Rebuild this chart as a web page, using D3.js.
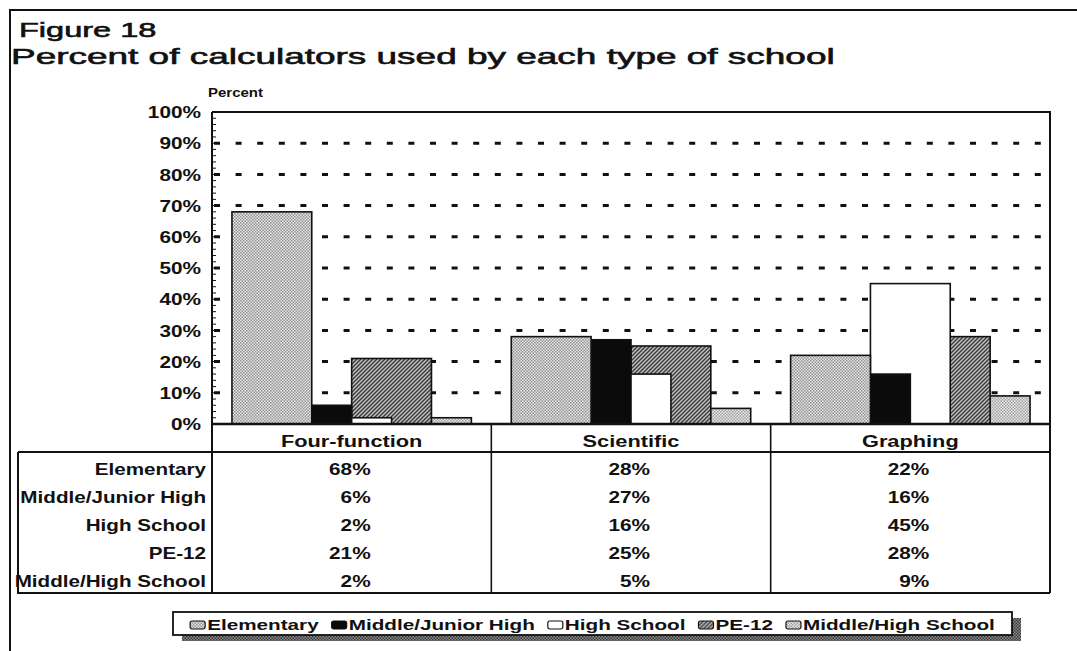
<!DOCTYPE html>
<html>
<head>
<meta charset="utf-8">
<script src="https://cdn.jsdelivr.net/npm/d3@7/dist/d3.min.js"></script>
<style>
  html, body { margin: 0; padding: 0; background: #ffffff; }
  svg { display: block; }
  text { font-family: "Liberation Sans", Arial, Helvetica, sans-serif; fill: #111; }
</style>
</head>
<body>
<svg id="chart" width="1077" height="651"></svg>
<script>
// ---------------- DATA ----------------
const categories = ["Four-function", "Scientific", "Graphing"];
const seriesNames = ["Elementary", "Middle/Junior High", "High School", "PE-12", "Middle/High School"];
const elementary   = [68, 28, 22];
const middleJunior = [6, 27, 16];
const highSchool   = [2, 16, 45];
const pe12         = [21, 25, 28];
const middleHigh   = [2, 5, 9];
const yTickValues  = [0, 10, 20, 30, 40, 50, 60, 70, 80, 90, 100];
const titleLine1 = "Figure 18";
const titleLine2 = "Percent of calculators used by each type of school";
const yAxisTitle = "Percent";

const seriesValues = [elementary, middleJunior, highSchool, pe12, middleHigh];
const series = seriesNames.map((name, i) => ({ name, values: seriesValues[i] }));

// ---------------- SETUP ----------------
const svg = d3.select("#chart");
const W = 1077, H = 651;
const plot = { left: 212, right: 1050, top: 112, bottom: 424 };
const tableBottom = 593, headerBottom = 452, tableLeft = 18;

const defs = svg.append("defs");
function checker(id, bg, fg) {
  const p = defs.append("pattern").attr("id", id).attr("width", 3).attr("height", 3)
    .attr("patternUnits", "userSpaceOnUse");
  p.append("rect").attr("width", 3).attr("height", 3).attr("fill", bg);
  p.append("rect").attr("width", 1.5).attr("height", 1.5).attr("fill", fg);
  p.append("rect").attr("x", 1.5).attr("y", 1.5).attr("width", 1.5).attr("height", 1.5).attr("fill", fg);
}
checker("pElem", "#e6e6e6", "#939393");
checker("pMH", "#eaeaea", "#9e9e9e");
checker("pShadow", "#8a8a8a", "#3a3a3a");
(function () {
  const p = defs.append("pattern").attr("id", "pPE").attr("width", 4).attr("height", 4)
    .attr("patternUnits", "userSpaceOnUse");
  p.append("rect").attr("width", 4).attr("height", 4).attr("fill", "#c4c4c4");
  p.append("path").attr("d", "M-1,1 L1,-1 M0,4 L4,0 M3,5 L5,3")
    .attr("stroke", "#3c3c3c").attr("stroke-width", 1.5);
})();
const fills = {
  "Elementary": "url(#pElem)",
  "Middle/Junior High": "#0b0b0b",
  "High School": "#ffffff",
  "PE-12": "url(#pPE)",
  "Middle/High School": "url(#pMH)"
};

svg.append("rect").attr("width", W).attr("height", H).attr("fill", "#ffffff");

// stretched text helper (the source scan is horizontally wide)
function sText(parent, x, y, str, opt) {
  const o = Object.assign({ size: 16, weight: "bold", anchor: "start", sx: 1.3, dy: null }, opt || {});
  const t = parent.append("text")
    .attr("transform", `translate(${x},${y}) scale(${o.sx},1)`)
    .attr("text-anchor", o.anchor)
    .attr("font-size", o.size)
    .attr("font-weight", o.weight)
    .text(str);
  if (o.dy) t.attr("dy", o.dy);
  if (o.stroke) t.attr("stroke", "#111").attr("stroke-width", o.stroke);
  return t;
}

// outer frame
svg.append("path").attr("d", `M${W},10 H10 V${H}`)
  .attr("fill", "none").attr("stroke", "#111").attr("stroke-width", 2);

// titles
sText(svg, 19, 37, titleLine1, { size: 21, weight: "normal", sx: 1.55, stroke: 0.6 });
sText(svg, 11, 64, titleLine2, { size: 22, weight: "normal", sx: 1.68, stroke: 0.6 });
sText(svg, 208, 97, yAxisTitle, { size: 12, sx: 1.25 });

// ---------------- SCALES ----------------
const x = d3.scaleBand().domain(categories).range([plot.left, plot.right]).padding(0);
const bw = x.bandwidth();
const xs = d3.scaleBand().domain(seriesNames).range([bw / 14, bw * 11 / 14]).padding(0);
const barW = xs.bandwidth() * 2;
const y = d3.scaleLinear().domain([0, 100]).range([plot.bottom, plot.top]);

// gridlines
svg.append("g").selectAll("line").data(yTickValues.filter(v => v > 0 && v < 100)).join("line")
  .attr("x1", plot.left + 2).attr("x2", plot.right - 2)
  .attr("y1", d => y(d)).attr("y2", d => y(d))
  .attr("stroke", "#111").attr("stroke-width", 3)
  .attr("stroke-dasharray", "6,15.6");

// bars (later series drawn first so earlier ones sit in front)
const barsG = svg.append("g");
series.slice().reverse().forEach(s => {
  barsG.append("g").selectAll("rect").data(categories.map((c, i) => ({ c, v: s.values[i] }))).join("rect")
    .attr("x", d => x(d.c) + xs(s.name))
    .attr("y", d => y(d.v))
    .attr("width", barW)
    .attr("height", d => y(0) - y(d.v))
    .attr("fill", fills[s.name])
    .attr("stroke", "#111").attr("stroke-width", 1.6);
});

// y axis with minor ticks
const yAxis = d3.axisLeft(y).tickValues(yTickValues).tickSize(0).tickPadding(11)
  .tickFormat(d => d + "%");
const ax = svg.append("g").attr("transform", `translate(${plot.left},0)`).call(yAxis);
ax.select(".domain").remove();
ax.selectAll(".tick text")
  .attr("font-size", 16).attr("font-weight", "bold")
  .attr("font-family", "Liberation Sans, Arial, sans-serif")
  .attr("x", null)
  .attr("transform", "translate(-11,0) scale(1.3,1)")
  .attr("dy", "0.35em").attr("fill", "#111");
svg.append("g").selectAll("line").data(d3.range(0, 101, 2)).join("line")
  .attr("x1", plot.left).attr("x2", d => plot.left + (d % 10 === 0 ? 7 : 4))
  .attr("y1", d => y(d)).attr("y2", d => y(d))
  .attr("stroke", "#111").attr("stroke-width", 1);

// plot frame and table grid
const frame = svg.append("g").attr("stroke", "#111").attr("fill", "none");
frame.append("path").attr("d",
  `M${plot.left},${plot.top} H${plot.right} V${tableBottom} M${plot.left},${plot.top} V${tableBottom}`)
  .attr("stroke-width", 2);
frame.append("line").attr("x1", plot.left).attr("x2", plot.right).attr("y1", y(0)).attr("y2", y(0)).attr("stroke-width", 2.5);
frame.append("path").attr("d",
  `M${tableLeft},${headerBottom} H${plot.right} M${tableLeft},${headerBottom} V${tableBottom} H${plot.right}`)
  .attr("stroke-width", 2);
categories.slice(1).forEach(c => {
  frame.append("line").attr("x1", x(c)).attr("x2", x(c)).attr("y1", y(0)).attr("y2", tableBottom).attr("stroke-width", 1.6);
});

// table header
categories.forEach(c => {
  sText(svg, x(c) + bw / 2, 447, c, { anchor: "middle", size: 16.5, sx: 1.32 });
});
// table rows
const rowY0 = 475, rowStep = 28;
series.forEach((s, r) => {
  sText(svg, 206, rowY0 + r * rowStep, s.name, { anchor: "end", size: 16, sx: 1.29 });
  categories.forEach((c, i) => {
    sText(svg, x(c) + bw / 2 + 19, rowY0 + r * rowStep, s.values[i] + "%", { anchor: "end", size: 16, sx: 1.3 });
  });
});

// ---------------- LEGEND ----------------
const lg = { x: 173, y: 612, w: 839, h: 23 };
svg.append("rect").attr("x", lg.x + 9).attr("y", lg.y + 6).attr("width", lg.w).attr("height", lg.h)
  .attr("fill", "url(#pShadow)");
svg.append("rect").attr("x", lg.x).attr("y", lg.y).attr("width", lg.w).attr("height", lg.h)
  .attr("fill", "#ffffff").attr("stroke", "#111").attr("stroke-width", 1.8);
const legG = svg.append("g");
let cx = 0;
const swW = 15, swH = 8, lsx = 1.38, gap = 13;
seriesNames.forEach(n => {
  const item = legG.append("g").attr("transform", `translate(${cx},0)`);
  item.append("rect").attr("x", 0).attr("y", -swH - 1).attr("width", swW).attr("height", swH)
    .attr("rx", 2).attr("fill", fills[n]).attr("stroke", "#111").attr("stroke-width", 1.2);
  const t = sText(item, swW + 2, 0, n, { size: 15, sx: lsx });
  const tw = t.node().getComputedTextLength() * lsx;
  cx += swW + 2 + tw + gap;
});
const totalW = cx - gap;
legG.attr("transform", `translate(${lg.x + (lg.w - totalW) / 2},${lg.y + 18})`);
</script>
</body>
</html>
